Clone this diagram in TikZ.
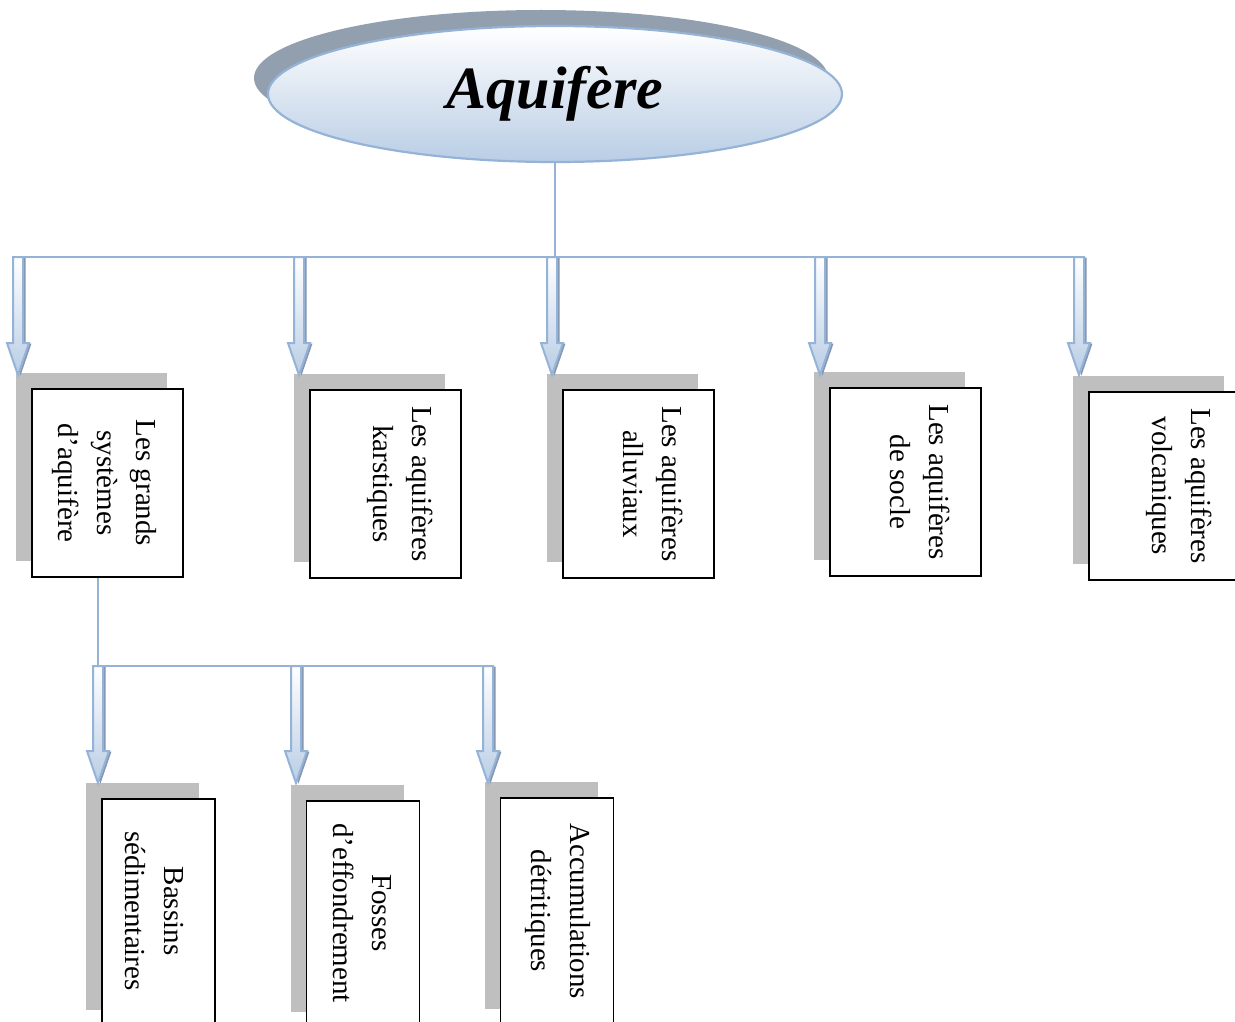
\documentclass[tikz,border=0pt]{standalone}
\usepackage{fontspec}
\setmainfont{Liberation Serif}
\usetikzlibrary{shapes.geometric,shadows,calc}
\definecolor{lineblue}{HTML}{95B3D7}
\definecolor{fillblue}{HTML}{B9CDE5}
\definecolor{ellshadow}{HTML}{929FAE}
\definecolor{boxshadow}{HTML}{BFBFBF}
\definecolor{arrshadow}{HTML}{8496B0}
\newcommand{\arrowpoly}[4]{($(#1)+(#3-5,#4)$) -- ($(#2)+(#3-5,#4-32)$) -- ($(#2)+(#3-11,#4-32)$) -- ($(#2)+(#3,#4)$) -- ($(#2)+(#3+11,#4-32)$) -- ($(#2)+(#3+5,#4-32)$) -- ($(#1)+(#3+5,#4)$) -- cycle}
\newcommand{\blockarrow}[2]{%
  \fill[arrshadow] \arrowpoly{#1}{#2}{2.5}{0.5};
  \draw[arrowbody] \arrowpoly{#1}{#2}{0}{0};}
\tikzset{
  conn/.style={draw=lineblue, line width=2.6pt},
  arrowbody/.style={draw=lineblue, line width=2pt, top color=white, bottom color=fillblue, line join=miter},
  boxone/.style={draw=black, line width=1.5pt, fill=white, inner sep=0pt,
    minimum width=151pt, minimum height=188pt,
    general shadow={fill=boxshadow, shadow xshift=-16pt, shadow yshift=16pt}},
  boxtwo/.style={boxone, minimum width=113pt, minimum height=227pt},
  txt/.style={font=\fontsize{29}{39}\selectfont, align=center, rotate=-90, inner sep=0pt},
  title/.style={ellipse, draw=lineblue, line width=2.2pt, top color=white, bottom color=fillblue,
    minimum width=574pt, minimum height=136pt, inner sep=0pt,
    general shadow={fill=ellshadow, shadow xshift=-14pt, shadow yshift=16pt},
    font=\fontsize{60}{60}\selectfont\bfseries\itshape}
}
\begin{document}
\begin{tikzpicture}[x=1pt, y=-1pt]
\useasboundingbox[fill=white] (0,0) rectangle (1235,1022);
% title
\node[title] (aq) at (555,94) {Aquifère};
% level 1 coordinates
\coordinate (j1) at (554,257);
\coordinate (a1t) at (18,257);   \coordinate (a1h) at (18,375);
\coordinate (a2t) at (299,257);  \coordinate (a2h) at (299,375);
\coordinate (a3t) at (552,257);  \coordinate (a3h) at (552,375);
\coordinate (a4t) at (820,257);  \coordinate (a4h) at (820,375);
\coordinate (a5t) at (1079,257); \coordinate (a5h) at (1079,375);
% level 1 boxes
\node[boxone] (b1) at (107.5,483) {};
\node[boxone] (b2) at (385.5,484) {};
\node[boxone] (b3) at (638.5,484) {};
\node[boxone] (b4) at (905.5,482) {};
\node[boxone] (b5) at (1164.5,486) {};
\node[txt] (t1) at (104,483) {Les grands\\systèmes\\d’aquifère};
\node[txt] (t2) at (400.5,484) {Les aquifères\\karstiques};
\node[txt] (t3) at (653,484) {Les aquifères\\alluviaux};
\node[txt] (t4) at (920,482) {Les aquifères\\de socle};
\node[txt] (t5) at (1179,486) {Les aquifères\\volcaniques};
% level 1 connectors
\blockarrow{a1t}{a1h}
\blockarrow{a2t}{a2h}
\blockarrow{a3t}{a3h}
\blockarrow{a4t}{a4h}
\blockarrow{a5t}{a5h}
\draw[conn] (aq.south) -- (aq.south |- j1);
\draw[conn] ($(a1t)+(-5,0)$) -- ($(a5t)+(5,0)$);
% level 2 coordinates
\coordinate (j2) at (98,666);
\coordinate (c1t) at (98,666);  \coordinate (c1h) at (98,783);
\coordinate (c2t) at (296,666); \coordinate (c2h) at (296,783);
\coordinate (c3t) at (488,666); \coordinate (c3h) at (488,783);
% level 2 boxes
\node[boxtwo] (c1) at (158.5,912.5) {};
\node[boxtwo] (c2) at (363,914.5) {};
\node[boxtwo] (c3) at (557,911.5) {};
\node[txt] (u1) at (154.5,911) {Bassins\\sédimentaires};
\node[txt] (u2) at (362,913) {Fosses\\d’effondrement};
\node[txt] (u3) at (557.5,911) {Accumulations\\détritiques};
% level 2 connectors
\blockarrow{c1t}{c1h}
\blockarrow{c2t}{c2h}
\blockarrow{c3t}{c3h}
\draw[conn] (j2 |- b1.south) -- (j2);
\draw[conn] ($(c1t)+(-5,0)$) -- ($(c3t)+(5,0)$);
\end{tikzpicture}
\end{document}
